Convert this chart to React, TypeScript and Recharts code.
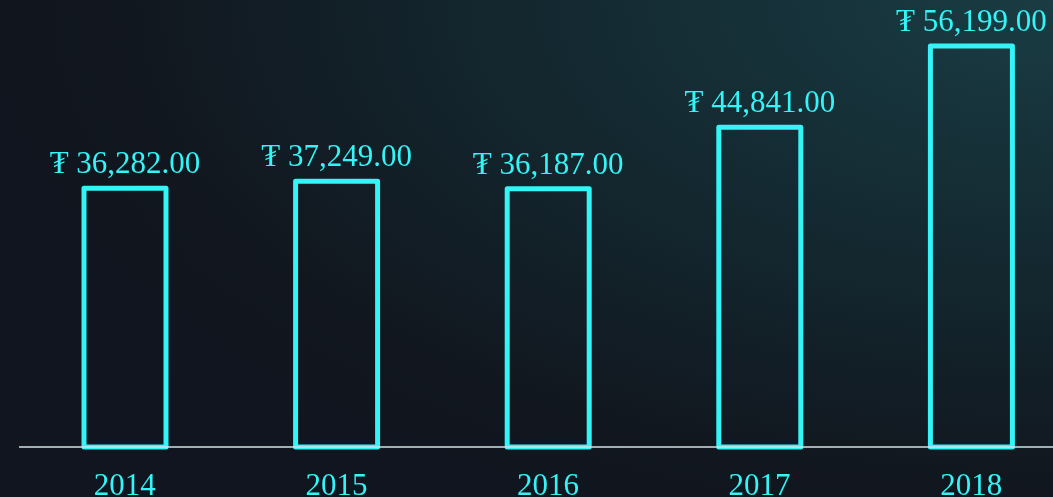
import { BarChart, Bar, XAxis, YAxis, LabelList } from 'recharts'

const years = ['2014', '2015', '2016', '2017', '2018']
const revenue = [36282, 37249, 36187, 44841, 56199]

const CYAN = '#33f4f6'

const data = years.map((year, i) => ({ year, revenue: revenue[i] }))

const fmt = (v: unknown) =>
  '₮ ' +
  Number(v).toLocaleString('en-US', { minimumFractionDigits: 2, maximumFractionDigits: 2 })

export default function App() {
  return (
    <div
      style={{
        position: 'fixed',
        left: 0,
        top: 0,
        width: 1053,
        height: 497,
        overflow: 'hidden',
        background:
          'radial-gradient(ellipse 110% 120% at 100% 0%, #1a3c43 0%, #142a32 40%, #11171f 80%, #10151f 100%)',
        fontFamily: '"Liberation Serif", "DejaVu Serif", serif',
      }}
    >
      <BarChart
        width={1077}
        height={497}
        data={data}
        margin={{ top: 19, right: 0, bottom: 0, left: 19 }}
        barSize={82}
      >
        <YAxis hide domain={[0, 60000]} />
        <XAxis
          dataKey="year"
          height={50}
          axisLine={{ stroke: '#d2e2e4', strokeWidth: 1.5 }}
          tickLine={false}
          tickSize={0}
          tickMargin={26}
          tick={{ fill: CYAN, fontSize: 31, fontFamily: '"Liberation Serif", serif' }}
          interval={0}
        />
        <Bar
          dataKey="revenue"
          fill="transparent"
          stroke={CYAN}
          strokeWidth={5}
          strokeLinejoin="round"
          isAnimationActive={false}
        >
          <LabelList
            dataKey="revenue"
            position="top"
            offset={15}
            formatter={fmt}
            fill={CYAN}
            fontSize={31}
            fontFamily='"Liberation Serif", "DejaVu Serif", serif'
          />
        </Bar>
      </BarChart>
    </div>
  )
}
